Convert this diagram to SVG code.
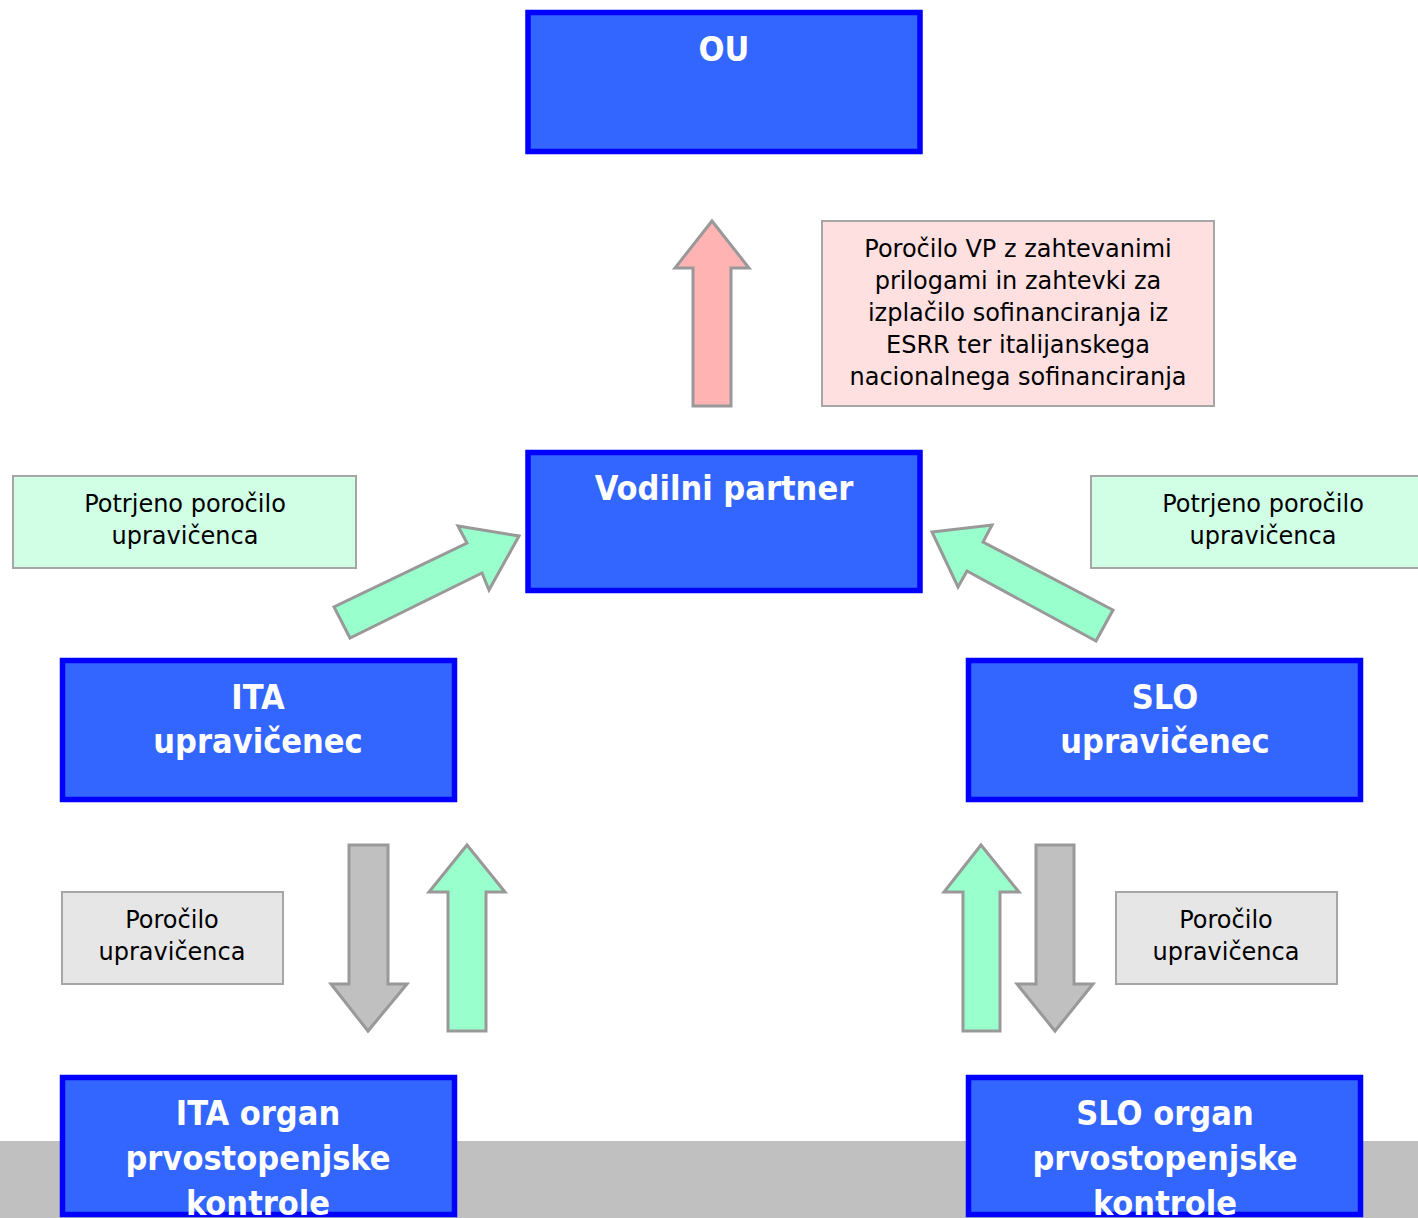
<svg xmlns="http://www.w3.org/2000/svg" width="1418" height="1218" viewBox="0 0 1418 1218">
<style>
.blue{fill:#3366FF;stroke:#0000FF;stroke-width:5.5}
.bt{font-family:"DejaVu Sans Condensed","DejaVu Sans",sans-serif;font-weight:bold;font-size:34px;fill:#FFFFFF;text-anchor:middle}
.lt{font-family:"DejaVu Sans",sans-serif;font-size:24px;fill:#000000;text-anchor:middle}
.pink{fill:#FFE0E0;stroke:#A6A6A6;stroke-width:2}
.mint{fill:#D1FFE6;stroke:#A6A6A6;stroke-width:2}
.grey{fill:#E6E6E6;stroke:#A6A6A6;stroke-width:2}
.arr{stroke:#999999;stroke-width:3;stroke-linejoin:miter}
.ag{fill:#99FFCC}
.ap{fill:#FFB3B3}
.ay{fill:#C0C0C0}
</style>
<rect x="0" y="0" width="1418" height="1218" fill="#FFFFFF"/>
<rect x="0" y="1141" width="1418" height="77" fill="#C0C0C0"/>

<g id="connectors">
<polygon class="arr ap" points="712,221 749,268 731,268 731,406 693,406 693,268 675,268"/>
<polygon class="arr ag" points="519,536 489,590 482,573 350,638 334,607 467,543 458,526"/>
<polygon class="arr ag" points="932,532 992,525 983,542 1113,610 1096,641 967,571 958,587"/>
<polygon class="arr ay" points="349,845 388,845 388,984 407,984 368,1031 331,984 349,984"/>
<polygon class="arr ag" points="467,845 505,892 486,892 486,1031 448,1031 448,892 429,892"/>
<polygon class="arr ag" points="981,845 1019,892 1000,892 1000,1031 963,1031 963,892 944,892"/>
<polygon class="arr ay" points="1036,845 1074,845 1074,984 1093,984 1055,1031 1017,984 1036,984"/>
</g>

<g id="ou">
<rect class="blue" x="528" y="12.5" width="392" height="139"/>
<text class="bt" x="724" y="61">OU</text>
</g>

<g id="label-vp">
<rect class="pink" x="822" y="221" width="392" height="185"/>
<text class="lt" x="1018" y="257">Poročilo VP z zahtevanimi</text>
<text class="lt" x="1018" y="289">prilogami in zahtevki za</text>
<text class="lt" x="1018" y="321">izplačilo sofinanciranja iz</text>
<text class="lt" x="1018" y="353">ESRR ter italijanskega</text>
<text class="lt" x="1018" y="385">nacionalnega sofinanciranja</text>
</g>

<g id="vodilni">
<rect class="blue" x="528" y="452.5" width="392" height="138"/>
<text class="bt" x="724" y="500">Vodilni partner</text>
</g>

<g id="label-left">
<rect class="mint" x="13" y="476" width="343" height="92"/>
<text class="lt" x="185" y="512">Potrjeno poročilo</text>
<text class="lt" x="185" y="544">upravičenca</text>
</g>

<g id="label-right">
<rect class="mint" x="1091" y="476" width="340" height="92"/>
<text class="lt" x="1263" y="512">Potrjeno poročilo</text>
<text class="lt" x="1263" y="544">upravičenca</text>
</g>

<g id="ita-upr">
<rect class="blue" x="62.5" y="660.5" width="392" height="139"/>
<text class="bt" x="258" y="709">ITA</text>
<text class="bt" x="258" y="753">upravičenec</text>
</g>

<g id="slo-upr">
<rect class="blue" x="968.5" y="660.5" width="392" height="139"/>
<text class="bt" x="1165" y="709">SLO</text>
<text class="bt" x="1165" y="753">upravičenec</text>
</g>

<g id="label-gl">
<rect class="grey" x="62" y="892" width="221" height="92"/>
<text class="lt" x="172" y="928">Poročilo</text>
<text class="lt" x="172" y="960">upravičenca</text>
</g>

<g id="label-gr">
<rect class="grey" x="1116" y="892" width="221" height="92"/>
<text class="lt" x="1226" y="928">Poročilo</text>
<text class="lt" x="1226" y="960">upravičenca</text>
</g>

<g id="ita-organ">
<rect class="blue" x="62.5" y="1077.5" width="392" height="137"/>
<text class="bt" x="258" y="1125">ITA organ</text>
<text class="bt" x="258" y="1170">prvostopenjske</text>
<text class="bt" x="258" y="1215">kontrole</text>
</g>

<g id="slo-organ">
<rect class="blue" x="968.5" y="1077.5" width="392" height="137"/>
<text class="bt" x="1165" y="1125">SLO organ</text>
<text class="bt" x="1165" y="1170">prvostopenjske</text>
<text class="bt" x="1165" y="1215">kontrole</text>
</g>
</svg>
